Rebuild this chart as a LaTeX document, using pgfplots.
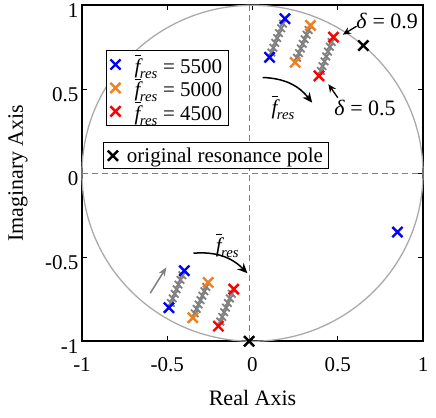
\documentclass[border=0pt]{standalone}
\usepackage{pgfplots}
\pgfplotsset{compat=1.18}
\usepackage{amsmath}
\usepackage{fontspec}
\setmainfont{Liberation Serif}
\usetikzlibrary{arrows.meta}
\definecolor{myorange}{RGB}{240,128,30}
\definecolor{mygray}{RGB}{128,128,128}
\definecolor{circgray}{RGB}{170,170,170}
\newcommand{\fres}{$\overline{\textit{f}\kern0.5pt}_{\kern-1pt\textit{res}}$}
\begin{document}
\begin{tikzpicture}
\pgfplotsset{
  myaxis/.style={
    scale only axis, width=341pt, height=336pt,
    xmin=-1, xmax=1, ymin=-1, ymax=1,
  }
}
\begin{axis}[myaxis,
  axis line style={line width=1.6pt},
  xtick={-1,-0.5,0,0.5,1}, ytick={-1,-0.5,0,0.5,1},
  /pgf/number format/assume math mode=true,
  tick style={line width=0.6pt, black},
  major tick length=5pt,
  tick label style={font=\fontsize{21}{24}\selectfont},
  xticklabel style={yshift=-13pt},
  yticklabel style={yshift=-5pt},
  xlabel={Real Axis}, ylabel={Imaginary Axis},
  every axis x label/.style={at={(axis description cs:0.5,0)}, yshift=-57pt, anchor=center, font=\fontsize{22}{26}\selectfont},
  every axis y label/.style={at={(axis description cs:0,0.5)}, xshift=-64pt, rotate=90, anchor=center, font=\fontsize{22}{26}\selectfont},
  clip=false,
  legend style={at={(axis cs:-0.86,0.735)}, anchor=north west, draw=black, line width=1pt,
    font=\fontsize{21}{26}\selectfont, row sep=-1pt, inner xsep=4pt, inner ysep=2pt,
    /tikz/every odd column/.append style={column sep=12pt}},
  legend cell align=left,
]
\path ([shift={(-82pt,-76pt)}]axis description cs:0,0) rectangle ([shift={(13pt,5pt)}]axis description cs:1,1);
% unit circle and dashed axes
\draw[circgray, line width=1.3pt] (axis cs:0,0) ellipse [x radius=1, y radius=1];
\draw[mygray, line width=1pt, dash pattern=on 6pt off 4pt] (axis cs:-1,0) -- (axis cs:1,0);
\draw[mygray, line width=1pt, dash pattern=on 6pt off 4pt] (axis cs:-0.02,-1) -- (axis cs:-0.02,1);

% intermediate (grey) poles
\addplot[only marks, mark=x, mygray, mark size=5.3pt, line width=1.8pt, forget plot] coordinates {
(0.111,0.719)(0.1225,0.7475)(0.134,0.776)(0.145,0.805)(0.156,0.834)(0.168,0.863)(0.179,0.891)
(0.261,0.6875)(0.2725,0.715)(0.284,0.7425)(0.295,0.77)(0.306,0.7975)(0.3175,0.825)(0.329,0.8525)
(0.401,0.609)(0.411,0.6375)(0.422,0.666)(0.4325,0.695)(0.443,0.724)(0.454,0.7525)(0.464,0.781)
(-0.479,-0.7725)(-0.4675,-0.745)(-0.456,-0.7175)(-0.445,-0.69)(-0.434,-0.6625)(-0.4225,-0.635)(-0.411,-0.6075)
(-0.339,-0.834)(-0.3275,-0.8075)(-0.316,-0.781)(-0.305,-0.755)(-0.294,-0.729)(-0.2825,-0.7025)(-0.271,-0.676)
(-0.189,-0.8825)(-0.1775,-0.855)(-0.166,-0.8275)(-0.155,-0.80)(-0.144,-0.7725)(-0.1325,-0.745)(-0.121,-0.7175)
};
% coloured poles
\addplot[only marks, mark=x, blue, mark size=7.2pt, line width=2.4pt] coordinates {
(0.10,0.69)(0.19,0.92)(-0.49,-0.80)(-0.40,-0.58)(0.85,-0.35)};
\addlegendentry{\fres\ = 5500}
\addplot[only marks, mark=x, myorange, mark size=7.2pt, line width=2.4pt] coordinates {
(0.25,0.66)(0.34,0.88)(-0.35,-0.86)(-0.26,-0.65)};
\addlegendentry{\fres\ = 5000}
\addplot[only marks, mark=x, red, mark size=7.2pt, line width=2.4pt] coordinates {
(0.39,0.58)(0.475,0.81)(-0.20,-0.91)(-0.11,-0.69)};
\addlegendentry{\fres\ = 4500}
\addplot[only marks, mark=x, black, mark size=7.2pt, line width=2.4pt, forget plot] coordinates {
(0.65,0.76)(-0.02,-1.0)};

% arrows and annotations
\draw[-{Stealth[length=10pt,width=9pt]}, line width=1.5pt] (axis cs:0.06,0.57) to[bend left=25] (axis cs:0.35,0.42);
\node[font=\fontsize{21}{24}\selectfont] at (axis cs:0.18,0.39) {\fres};
\draw[-{Stealth[length=8pt,width=7pt]}, line width=1.3pt] (axis cs:0.61,0.875) -- (axis cs:0.53,0.825);
\node[font=\fontsize{22}{24}\selectfont] at (axis cs:0.79,0.905) {\textit{δ} = 0.9};
\draw[-{Stealth[length=8pt,width=7pt]}, line width=1.3pt] (axis cs:0.50,0.45) -- (axis cs:0.445,0.53);
\node[font=\fontsize{22}{24}\selectfont] at (axis cs:0.66,0.39) {\textit{δ} = 0.5};
\draw[-{Stealth[length=9pt,width=7pt]}, mygray, line width=1.5pt] (axis cs:-0.60,-0.714) -- (axis cs:-0.505,-0.56);
\draw[-{Stealth[length=10pt,width=9pt]}, line width=1.5pt] (axis cs:-0.346,-0.476) to[bend left=25] (axis cs:-0.03,-0.595);
\node[font=\fontsize{21}{24}\selectfont] at (axis cs:-0.147,-0.43) {\fres};
\end{axis}
\begin{axis}[myaxis, hide axis,
  legend style={at={(axis cs:-0.875,0.185)}, anchor=north west, draw=black, line width=1pt,
    font=\fontsize{21}{26}\selectfont, inner xsep=4pt, inner ysep=3pt,
    /tikz/every odd column/.append style={column sep=7pt}},
]
\addlegendimage{only marks, mark=x, black, mark size=7.2pt, line width=2.4pt}
\addlegendentry{original resonance pole}
\end{axis}
\end{tikzpicture}
\end{document}
